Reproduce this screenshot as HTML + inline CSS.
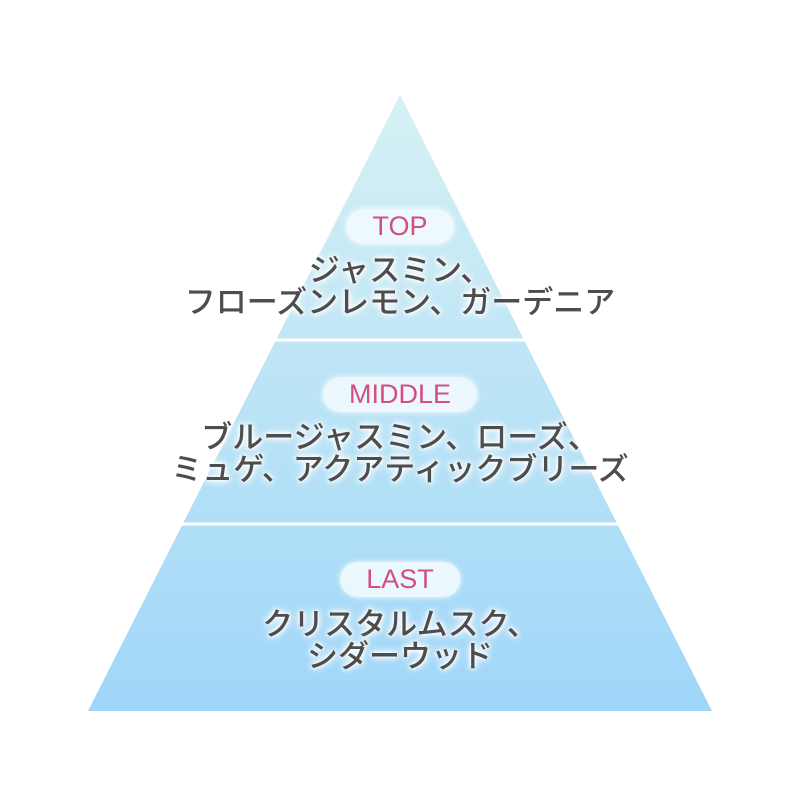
<!DOCTYPE html>
<html><head><meta charset="utf-8"><style>
body{margin:0;width:800px;height:800px;background:#fff;overflow:hidden;position:relative;font-family:"Liberation Sans","Noto Sans CJK JP",sans-serif}
svg{position:absolute;left:0;top:0}
.pill{position:absolute;left:50%;transform:translateX(-50%);height:35px;line-height:35px;padding:0 26px;border-radius:18px;background:rgba(240,250,253,0.92);box-shadow:0 0 6px #fff;color:#d24f7e;font-size:27px}
.t{position:absolute;left:0;width:800px;text-align:center;color:#4d4d4d;font-size:31px;line-height:32px;font-weight:500;text-shadow:0 0 3px #fff,0 0 5px #fff,0 0 8px #fff,0 0 10px #fff}
</style></head><body>
<svg width="800" height="800">
<defs><linearGradient id="g" x1="0" y1="0" x2="0" y2="1"><stop offset="0" stop-color="#d6f1f4"/><stop offset="1" stop-color="#9fd6f8"/></linearGradient></defs>
<polygon points="400,95 712,711 88,711" fill="url(#g)"/>
<line x1="0" y1="340" x2="800" y2="340" stroke="#fff" stroke-width="3"/>
<line x1="0" y1="524" x2="800" y2="524" stroke="#fff" stroke-width="3"/>
</svg>
<div class="pill" style="top:209px">TOP</div>
<div class="t" style="top:255px">ジャスミン、<br>フローズンレモン、ガーデニア</div>
<div class="pill" style="top:377px">MIDDLE</div>
<div class="t" style="top:422px">ブルージャスミン、ローズ、<br>ミュゲ、アクアティックブリーズ</div>
<div class="pill" style="top:562px">LAST</div>
<div class="t" style="top:609px">クリスタルムスク、<br>シダーウッド</div>
</body></html>
